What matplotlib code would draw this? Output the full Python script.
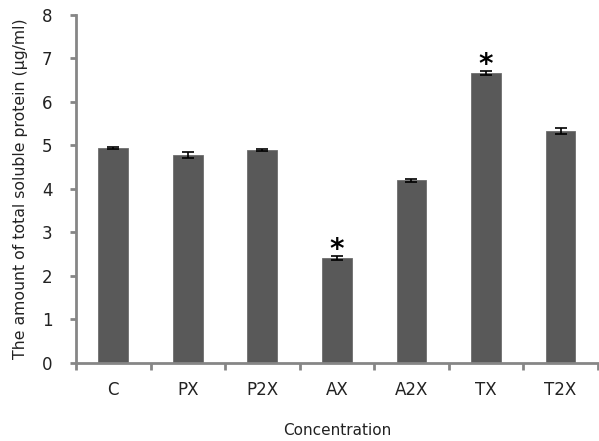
import numpy as np
import matplotlib.pyplot as plt

categories = ["C", "PX", "P2X", "AX", "A2X", "TX", "T2X"]
values = [4.94, 4.78, 4.90, 2.41, 4.20, 6.66, 5.34]
errors = [0.03, 0.07, 0.02, 0.05, 0.03, 0.05, 0.07]
stars = ["", "", "", "*", "", "*", ""]

fig = plt.figure(figsize=(5.99, 4.41), dpi=100)
ax = fig.add_axes([0.127, 0.177, 0.871, 0.789])

x = np.arange(len(categories))
ax.bar(x, values, width=0.4, color="#595959", edgecolor="#6e6e6e", linewidth=0.6,
       yerr=errors, error_kw=dict(ecolor="black", elinewidth=1.2, capsize=4, capthick=1.2))

for xi, v, e, s in zip(x, values, errors, stars):
    if s:
        ax.text(xi, v + e - 0.18, s, ha="center", va="bottom", fontsize=20,
                fontweight="bold", color="black")

ax.set_xlim(-0.5, len(categories) - 0.5)
ax.set_ylim(0, 8)
ax.set_yticks(range(0, 9))
ax.set_xticks(x)
ax.set_xticklabels(categories)
ax.set_xticks(np.arange(-0.5, len(categories) + 0.5, 1), minor=True)

for side in ["top", "right"]:
    ax.spines[side].set_visible(False)
for side in ["left", "bottom"]:
    ax.spines[side].set_color("#868686")
    ax.spines[side].set_linewidth(2)

ax.tick_params(axis="x", which="major", length=0, pad=13, labelsize=12, labelcolor="#222222")
ax.tick_params(axis="x", which="minor", length=5, width=2, color="#868686", direction="out")
ax.tick_params(axis="y", length=4, width=2, color="#868686", direction="out", labelsize=12,
               labelcolor="#222222", pad=13)

ax.set_xlabel("Concentration", fontsize=11, labelpad=17, color="#222222")
ax.set_ylabel("The amount of total soluble protein (\u00b5g/ml)", fontsize=11.3, labelpad=10, color="#222222")

fig.savefig("out.png", dpi=100)
